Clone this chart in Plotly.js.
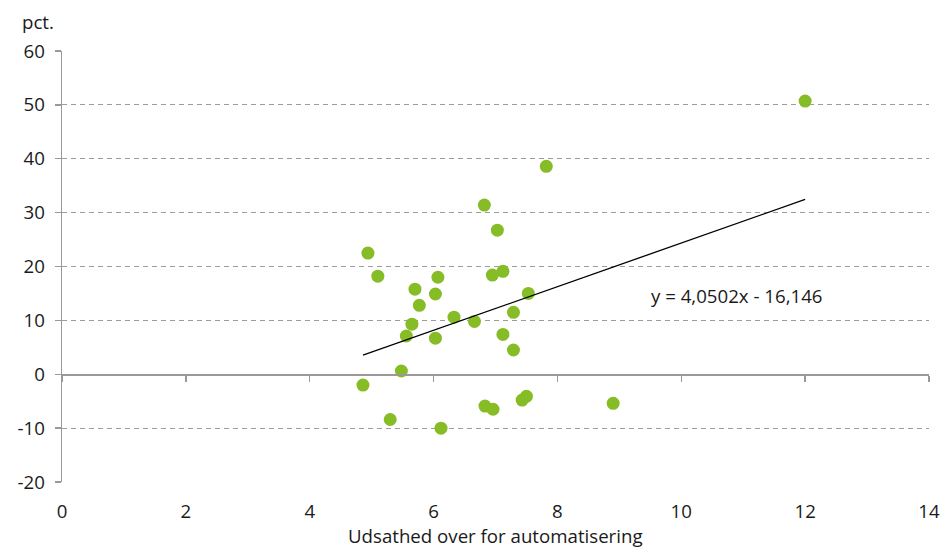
<!DOCTYPE html>
<html>
<head>
<meta charset="utf-8">
<script src="https://cdn.plot.ly/plotly-3.0.1.min.js"></script>
<style>html,body{margin:0;padding:0;background:#fff;}#chart{width:942px;height:548px;}</style>
</head>
<body>
<div id="chart"></div>
<script>
const exposure = [12.0, 7.82, 6.82, 7.03, 4.94, 5.10, 6.07, 7.12, 6.95, 5.70, 6.03, 7.53, 5.77, 6.33, 7.29, 5.65, 6.66, 5.56, 7.12, 6.03, 7.29, 5.48, 4.86, 5.30, 6.12, 6.83, 6.96, 7.43, 7.50, 8.90];
const change = [50.7, 38.6, 31.4, 26.75, 22.5, 18.2, 18.0, 19.1, 18.4, 15.8, 14.9, 15.0, 12.8, 10.6, 11.5, 9.3, 9.8, 7.1, 7.4, 6.7, 4.5, 0.6, -2.0, -8.4, -10.0, -5.9, -6.5, -4.8, -4.1, -5.4];
const slope = 4.0502;
const intercept = -16.146;
const eqLabel = "y = 4,0502x - 16,146";
const xTitle = "Udsathed over for automatisering";
const yUnit = "pct.";
const xTicks = [0, 2, 4, 6, 8, 10, 12, 14];
const yTicks = [-20, -10, 0, 10, 20, 30, 40, 50, 60];

const xMin = Math.min(...exposure), xMax = Math.max(...exposure);
const trendX = [xMin, xMax];
const trendY = trendX.map(v => slope * v + intercept);

const FONT = "'Open Sans', 'Noto Sans', sans-serif";
const TXT = "#1a1a1a";
const FS = 18.67;

const data = [
  {
    x: trendX, y: trendY, type: "scatter", mode: "lines",
    line: {color: "#000000", width: 1.3},
    xaxis: "x2", yaxis: "y", hoverinfo: "skip", showlegend: false
  },
  {
    x: exposure, y: change, type: "scatter", mode: "markers",
    marker: {color: "#86bc25", size: 13},
    showlegend: false
  }
];

const layout = {
  width: 942, height: 548,
  margin: {l: 62, r: 13, t: 51, b: 66},
  paper_bgcolor: "#ffffff", plot_bgcolor: "#ffffff",
  font: {family: FONT, size: FS, color: TXT},
  showlegend: false,
  xaxis: {
    range: [0, 14], tickvals: xTicks, ticktext: xTicks.map(String),
    showgrid: false, zeroline: false, showline: false,
    ticks: "outside", ticklen: 13, tickcolor: "rgba(0,0,0,0)",
    tickfont: {family: FONT, size: FS, color: TXT},
    automargin: false
  },
  xaxis2: {
    range: [0, 14], tickvals: xTicks, overlaying: "x", anchor: "free",
    position: 0.25, side: "bottom",
    showgrid: false, zeroline: false, showline: true, linecolor: "#999999", linewidth: 1.3,
    ticks: "outside", ticklen: 6, tickcolor: "#999999", tickwidth: 1.3,
    showticklabels: false
  },
  yaxis: {
    range: [-20, 60], tickvals: yTicks, ticktext: yTicks.map(String),
    showgrid: true, gridcolor: "#9c9c9c", gridwidth: 1, griddash: "5px,4px",
    zeroline: false, showline: true, linecolor: "#999999", linewidth: 1.3,
    ticks: "outside", ticklen: 6, tickcolor: "#999999", tickwidth: 1.3,
    ticklabelstandoff: 6, automargin: false,
    tickfont: {family: FONT, size: FS, color: TXT}
  },
  annotations: [
    {
      text: eqLabel, x: 10.9, y: 14.7, xref: "x", yref: "y",
      showarrow: false, font: {family: FONT, size: FS, color: TXT}
    },
    {
      text: yUnit, x: -0.048, y: 1.068, xref: "paper", yref: "paper",
      xanchor: "left", yanchor: "middle", showarrow: false,
      font: {family: FONT, size: FS, color: TXT}
    },
    {
      text: xTitle, x: 0.5, y: -0.124, xref: "paper", yref: "paper",
      xanchor: "center", yanchor: "middle", showarrow: false,
      font: {family: FONT, size: FS, color: TXT}
    }
  ]
};

Plotly.newPlot("chart", data, layout, {displayModeBar: false, staticPlot: true});
</script>
</body>
</html>
